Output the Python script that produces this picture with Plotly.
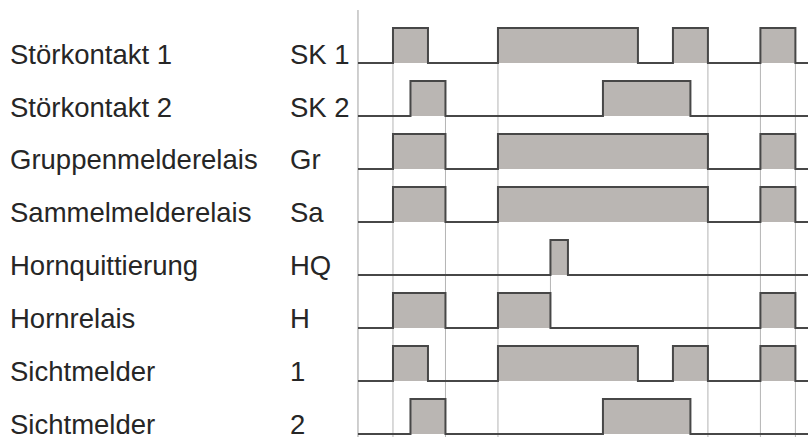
import plotly.graph_objects as go

# ---- data ----
names = ["Störkontakt 1", "Störkontakt 2", "Gruppenmelderelais", "Sammelmelderelais",
         "Hornquittierung", "Hornrelais", "Sichtmelder", "Sichtmelder"]
codes = ["SK 1", "SK 2", "Gr", "Sa", "HQ", "H", "1", "2"]

pulses_sk1 = [(2, 4), (8, 16), (18, 20), (23, 25)]
pulses_sk2 = [(3, 5), (14, 19)]
pulses_gr = [(2, 5), (8, 20), (23, 25)]
pulses_sa = [(2, 5), (8, 20), (23, 25)]
pulses_hq = [(11, 12)]
pulses_h = [(2, 5), (8, 11), (23, 25)]
pulses_s1 = [(2, 4), (8, 16), (18, 20), (23, 25)]
pulses_s2 = [(3, 5), (14, 19)]
signals = [pulses_sk1, pulses_sk2, pulses_gr, pulses_sa, pulses_hq, pulses_h, pulses_s1, pulses_s2]

grid_times = [2, 5, 8, 11, 20, 23, 25]
grid_first_row = [0, 1, 0, 4, 0, 0, 0]
grid_last_row = [7, 7, 7, 5, 7, 7, 7]

# ---- geometry (axis units) ----
T_END = 25.72
X_MIN = -20.46
HIGH = 0.66
Y_MIN, Y_MAX = -7.057, 1.189

fig = go.Figure()

# grid lines
for t, r0, r1 in zip(grid_times, grid_first_row, grid_last_row):
    y_top = -r0 + HIGH
    y_bot = -r1 if r1 < 7 else Y_MIN
    if r1 == 5:
        y_bot = -r1 + HIGH
    fig.add_trace(go.Scatter(x=[t, t], y=[y_top, y_bot], mode="lines",
                             line=dict(color="#b4b4b4", width=1), hoverinfo="skip"))

# left axis line
fig.add_trace(go.Scatter(x=[0, 0], y=[1.0, Y_MIN], mode="lines",
                         line=dict(color="#a0a0a0", width=1), hoverinfo="skip"))

for i, pulses in enumerate(signals):
    b = -i
    xs, ys = [0], [b]
    for on, off in pulses:
        xs += [on, on, off, off]
        ys += [b, b + HIGH, b + HIGH, b]
    xs.append(T_END)
    ys.append(b)
    fig.add_trace(go.Scatter(x=[0, T_END], y=[b, b], mode="lines",
                             line=dict(width=0, color="rgba(0,0,0,0)"), hoverinfo="skip"))
    fig.add_trace(go.Scatter(x=xs, y=ys, mode="lines", fill="tonexty",
                             fillcolor="#bab6b3",
                             line=dict(color="#474747", width=2), hoverinfo="skip"))
    fig.add_annotation(x=-20.0, y=b + 0.17, text=names[i], showarrow=False,
                       xanchor="left", yanchor="middle",
                       font=dict(family="Liberation Sans, Arial", size=27.5, color="#262626"))
    fig.add_annotation(x=-4.0, y=b + 0.17, text=codes[i], showarrow=False,
                       xanchor="left", yanchor="middle",
                       font=dict(family="Liberation Sans, Arial", size=27.5, color="#262626"))

fig.update_layout(
    width=808, height=437,
    margin=dict(l=0, r=0, t=0, b=0),
    paper_bgcolor="white", plot_bgcolor="white",
    showlegend=False,
    xaxis=dict(range=[X_MIN, T_END], visible=False, fixedrange=True),
    yaxis=dict(range=[Y_MIN, Y_MAX], visible=False, fixedrange=True),
)

fig.write_html("out.html", config={"displayModeBar": False},
               post_script="document.body.style.margin='0';document.body.style.overflow='hidden';")
